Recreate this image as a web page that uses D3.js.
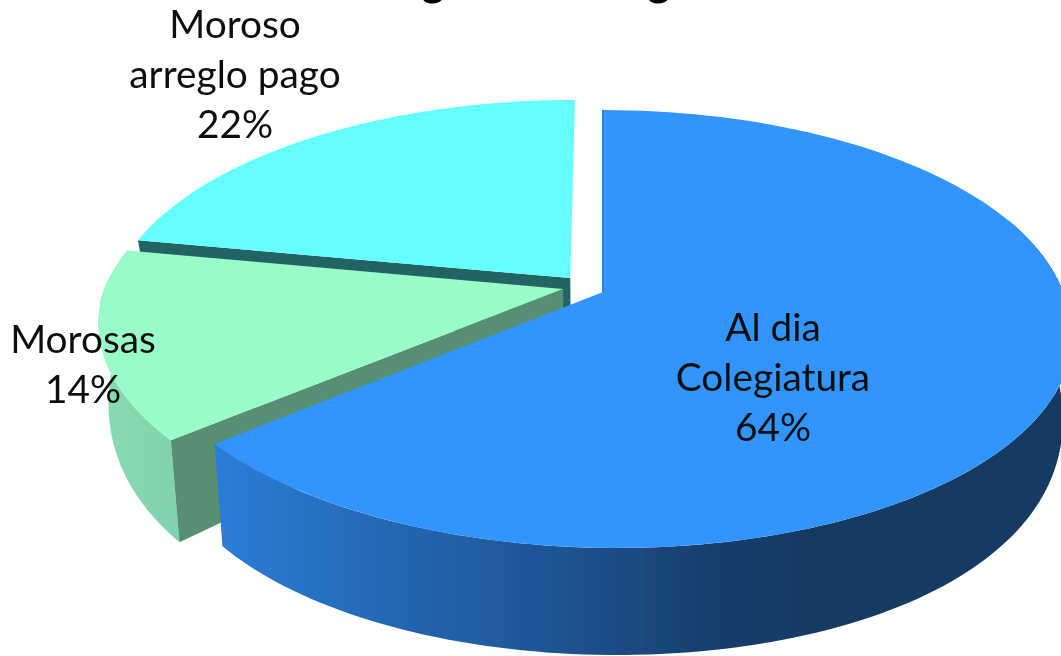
<!DOCTYPE html>
<html><head><meta charset="utf-8">
<script src="https://cdn.jsdelivr.net/npm/d3@7"></script>
<style>html,body{margin:0;padding:0;background:#fff;overflow:hidden}svg{display:block}text{font-family:Lato,"Open Sans",sans-serif;fill:#111}</style>
</head><body><svg width="1061" height="656"></svg>
<script>
const categories = ["Al dia Colegiatura", "Morosas", "Moroso arreglo pago"];
const seriesValues = [64, 14, 22];
const labelLines = [["Al dia", "Colegiatura", "64%"], ["Morosas", "14%"], ["Moroso", "arreglo pago", "22%"]];
const titleText = "Pagos de Colegiatura";

const topColors = ["#3095fd", "#99fcc8", "#66ffff"];
const cutColors = ["#2a7fd8", "#568f72", "#246464"];
const explode = [[0, 0], [-0.087, -0.014], [-0.072, -0.066]];
const labelPos = [[773, 341], [83, 353], [235, 38]];

const W = 1061, H = 656, CX = 603, CY = 292, RX = 460, RY = 212.7, K = -0.169;
const svg = d3.select("svg");
const defs = svg.append("defs");
defs.append("filter").attr("id", "soft").attr("x", "-5%").attr("y", "-5%").attr("width", "110%").attr("height", "110%")
  .append("feGaussianBlur").attr("stdDeviation", 0.55);

// scales: unit circle plane to the picture, with perspective applied by the divisor
const sx = d3.scaleLinear().domain([-1, 1]).range([CX - RX, CX + RX]);
const sy = d3.scaleLinear().domain([-1, 1]).range([CY - RY, CY + RY]);
const wallGrad = defs.append("linearGradient").attr("id", "blueWall").attr("gradientUnits", "userSpaceOnUse")
  .attr("x1", 215).attr("x2", 1061).attr("y1", 0).attr("y2", 0);
[[0, "#2b7dd8"], [0.2, "#2468b4"], [0.4, "#1e5493"], [0.6, "#173d6b"], [0.72, "#163a63"], [1, "#163a63"]]
  .forEach(([o, c]) => wallGrad.append("stop").attr("offset", o).attr("stop-color", c));
const greenGrad = defs.append("linearGradient").attr("id", "greenWall").attr("gradientUnits", "userSpaceOnUse")
  .attr("x1", 100).attr("x2", 180).attr("y1", 0).attr("y2", 0);
greenGrad.append("stop").attr("offset", 0).attr("stop-color", "#8adbb4");
greenGrad.append("stop").attr("offset", 1).attr("stop-color", "#80d2aa");

const pie = d3.pie().sort(null).value(d => d).startAngle(0).endAngle(2 * Math.PI);
const arcs = pie(seriesValues);

function proj(px, py, lower) {
  const den = 1 + K * py;
  let x = sx(px / den) + 14 * Math.max(py, 0), y = sy(py / den);
  if (lower) {
    y += 72 + 70 * py - 35 * py * py;
    x = CX + (x - CX) * 0.98;
  }
  return [x, y];
}
const plane = (i, a) => [Math.sin(a) + explode[i][0], -Math.cos(a) + explode[i][1]];
const apex = i => [explode[i][0], explode[i][1]];
const line = d3.line().curve(d3.curveLinear);
const angles = (a0, a1) => d3.range(0, 121).map(s => a0 + (a1 - a0) * s / 120);

function rim(i, a0, a1, lower) {
  return angles(a0, a1).map(a => { const p = plane(i, a); return proj(p[0], p[1], lower); });
}
function cutFace(i, a) {
  const p = plane(i, a), c = apex(i);
  return [proj(c[0], c[1], false), proj(p[0], p[1], false), proj(p[0], p[1], true), proj(c[0], c[1], true)];
}

const root = svg.append("g").attr("filter", "url(#soft)");
const g = root.append("g");

// back slice first (cyan), then green, then blue in front
const cy = arcs[2], gr = arcs[1], bl = arcs[0];

g.append("path").attr("d", line(cutFace(2, cy.startAngle)) + "Z").attr("fill", cutColors[2]);
g.append("path").attr("d", line([proj(...apex(2), false), ...rim(2, cy.startAngle, cy.endAngle, false)]) + "Z").attr("fill", topColors[2]);

g.append("path").attr("d", line([...rim(1, gr.startAngle, gr.endAngle, false), ...rim(1, gr.startAngle, gr.endAngle, true).reverse()]) + "Z").attr("fill", "url(#greenWall)");
g.append("path").attr("d", line(cutFace(1, gr.startAngle)) + "Z").attr("fill", cutColors[1]);
g.append("path").attr("d", line([proj(...apex(1), false), ...rim(1, gr.startAngle, gr.endAngle, false)]) + "Z").attr("fill", topColors[1]);

// only the part of the blue wall that faces the viewer
const visibleFrom = Math.PI / 2.6;
g.append("path").attr("d", line([...rim(0, visibleFrom, bl.endAngle, false), ...rim(0, visibleFrom, bl.endAngle, true).reverse()]) + "Z").attr("fill", "url(#blueWall)");
g.append("path").attr("d", line([proj(...apex(0), false), ...rim(0, bl.startAngle, bl.endAngle, false)]) + "Z").attr("fill", topColors[0]);
// thin darker edge of the blue slice's cut, seen beside the gap
g.append("path").attr("d", line([proj(...apex(0), false), proj(...plane(0, bl.startAngle), false)]))
  .attr("stroke", "#2a7fd8").attr("stroke-width", 2).attr("fill", "none");

// title, almost entirely above the picture's top edge
root.append("text").attr("x", 578).attr("y", -4).attr("text-anchor", "middle")
  .attr("font-size", 44).attr("font-weight", 700).style("fill", "#000").text(titleText);

// labels
const lineGap = 50;
labelLines.forEach((lines, i) => {
  const t = root.append("text").attr("text-anchor", "middle").attr("font-size", 38.8);
  lines.forEach((s, j) => t.append("tspan").attr("x", labelPos[i][0]).attr("y", labelPos[i][1] + j * lineGap).text(s));
});
</script></body></html>
